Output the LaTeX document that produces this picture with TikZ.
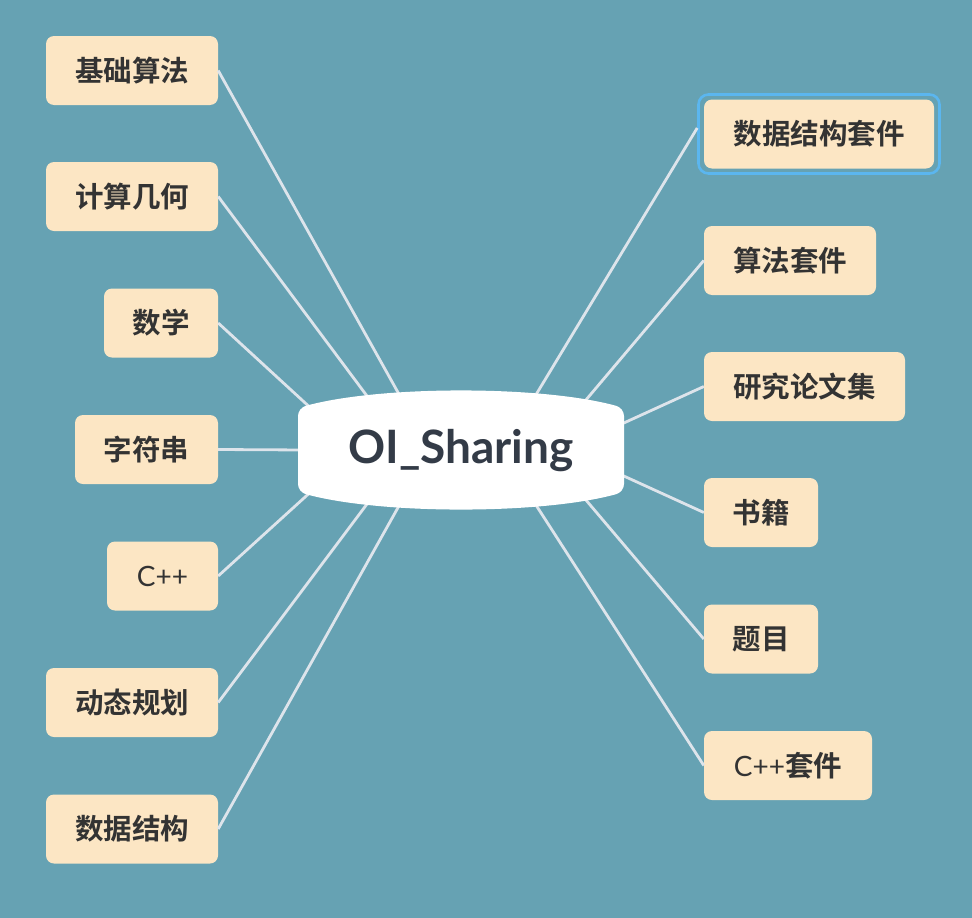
\documentclass[tikz,border=0pt]{standalone}
\usepackage{fontspec}
\setmainfont{Lato}
\newfontfamily\cjk{Noto Sans CJK SC}[BoldFont={* Bold}]
\definecolor{bg}{HTML}{66A2B3}
\definecolor{nodefill}{HTML}{FCE6C4}
\definecolor{linec}{HTML}{DDE4EB}
\definecolor{txt}{HTML}{333333}
\definecolor{ctxt}{HTML}{333B47}
\definecolor{hl}{HTML}{5BB6EF}
\tikzset{
  topic/.style={fill=nodefill, rounded corners=8pt, minimum height=69pt, inner sep=0pt, text=txt, font=\fontsize{28.5}{31}\selectfont\cjk\bfseries},
  conn/.style={draw=linec, line width=2.8pt},
}
\begin{document}
\begin{tikzpicture}[x=1pt,y=-1pt]
\fill[bg] (0,0) rectangle (972,918);
\useasboundingbox (0,0) rectangle (972,918);
% left nodes
\node[topic, minimum width=172pt] (l1) at (132,70.5) {基础算法};
\node[topic, minimum width=172pt] (l2) at (132,196.5) {计算几何};
\node[topic, minimum width=114pt] (l3) at (161,323) {数学};
\node[topic, minimum width=143pt] (l4) at (146.5,449.5) {字符串};
\node[topic, minimum width=111pt] (l5) at (162.5,576) {{\normalfont\fontsize{28}{31}\selectfont C++}};
\node[topic, minimum width=172pt] (l6) at (132,702.5) {动态规划};
\node[topic, minimum width=172pt] (l7) at (132,829) {数据结构};
% right nodes
\node[draw=hl, line width=2.6pt, rounded corners=10pt, minimum width=241pt, minimum height=79pt, inner sep=0pt] (hlbox) at (819,134) {};
\node[topic, minimum width=230pt] (r1) at (819,134) {数据结构套件};
\node[topic, minimum width=172pt] (r2) at (790,260.5) {算法套件};
\node[topic, minimum width=201pt] (r3) at (804.5,386.5) {研究论文集};
\node[topic, minimum width=114pt] (r4) at (761,512.5) {书籍};
\node[topic, minimum width=114pt] (r5) at (761,639) {题目};
\node[topic, minimum width=168pt] (r6) at (788,765.5) {{\normalfont\fontsize{28}{31}\selectfont C++}套件};
% connector ends on the central topic
\coordinate (c1) at (400,396);
\coordinate (c2) at (370,400);
\coordinate (c3) at (315,412);
\coordinate (c4) at (305,450);
\coordinate (c5) at (315,488);
\coordinate (c6) at (370,500);
\coordinate (c7) at (400,504);
\coordinate (d1) at (534,398);
\coordinate (d2) at (580,407);
\coordinate (d3) at (615,427);
\coordinate (d4) at (615,472);
\coordinate (d5) at (580,493);
\coordinate (d6) at (534,502);
\draw[conn] (l1.east) -- (c1);
\draw[conn] (l2.east) -- (c2);
\draw[conn] (l3.east) -- (c3);
\draw[conn] (l4.east) -- (c4);
\draw[conn] (l5.east) -- (c5);
\draw[conn] (l6.east) -- (c6);
\draw[conn] (l7.east) -- (c7);
\draw[conn] ([yshift=6pt]hlbox.west) -- (d1);
\draw[conn] (r2.west) -- (d2);
\draw[conn] (r3.west) -- (d3);
\draw[conn] (r4.west) -- (d4);
\draw[conn] (r5.west) -- (d5);
\draw[conn] (r6.west) -- (d6);
% central topic
\fill[white, rounded corners=8pt] (298,408) .. controls (380,385.3) and (542,385.3) .. (624,408) -- (624,492) .. controls (542,514.7) and (380,514.7) .. (298,492) -- cycle;
\node[text=ctxt, font=\fontsize{46}{50}\selectfont\bfseries, inner sep=0pt] (root) at (461,451) {OI\_Sharing};
\end{tikzpicture}
\end{document}
